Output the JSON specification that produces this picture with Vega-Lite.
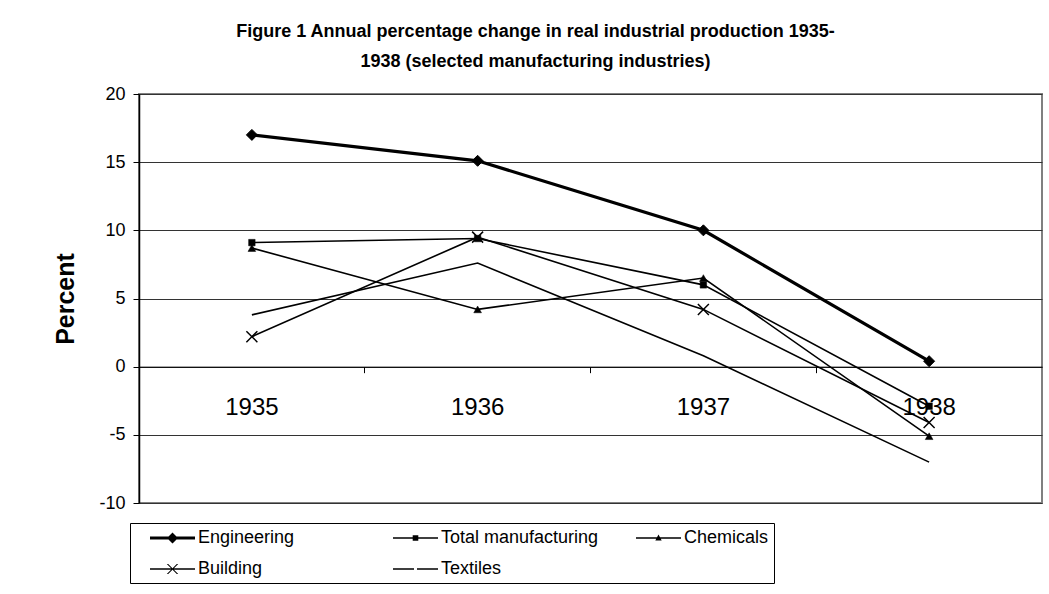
{
  "$schema": "https://vega.github.io/schema/vega-lite/v6.json",
  "autosize": {"type": "none"},
  "width": 903,
  "height": 409,
  "padding": {"left": 139, "top": 94, "right": 7, "bottom": 91},
  "background": "white",
  "title": {
    "text": ["Figure 1 Annual percentage change in real industrial production 1935-", "1938 (selected manufacturing industries)"],
    "font": "Liberation Sans",
    "fontSize": 18,
    "fontWeight": "bold",
    "color": "black",
    "anchor": "middle",
    "frame": "group",
    "dx": -55,
    "offset": 14,
    "lineHeight": 30
  },
  "data": {
    "values": [
      {"year": "1935", "series": "Engineering", "value": 17.0},
      {"year": "1936", "series": "Engineering", "value": 15.1},
      {"year": "1937", "series": "Engineering", "value": 10.0},
      {"year": "1938", "series": "Engineering", "value": 0.4},
      {"year": "1935", "series": "Total manufacturing", "value": 9.1},
      {"year": "1936", "series": "Total manufacturing", "value": 9.4},
      {"year": "1937", "series": "Total manufacturing", "value": 6.0},
      {"year": "1938", "series": "Total manufacturing", "value": -2.9},
      {"year": "1935", "series": "Chemicals", "value": 8.7},
      {"year": "1936", "series": "Chemicals", "value": 4.2},
      {"year": "1937", "series": "Chemicals", "value": 6.5},
      {"year": "1938", "series": "Chemicals", "value": -5.1},
      {"year": "1935", "series": "Building", "value": 2.2},
      {"year": "1936", "series": "Building", "value": 9.5},
      {"year": "1937", "series": "Building", "value": 4.2},
      {"year": "1938", "series": "Building", "value": -4.1},
      {"year": "1935", "series": "Textiles", "value": 3.8},
      {"year": "1936", "series": "Textiles", "value": 7.6},
      {"year": "1937", "series": "Textiles", "value": 0.8},
      {"year": "1938", "series": "Textiles", "value": -7.0}
    ]
  },
  "encoding": {
    "x": {
      "field": "year",
      "type": "ordinal",
      "scale": {"type": "band", "paddingInner": 0, "paddingOuter": 0},
      "axis": {
        "title": null,
        "offset": -136.33,
        "domainColor": "black",
        "domainWidth": 1,
        "tickColor": "black",
        "tickSize": 6,
        "bandPosition": 0,
        "labelFont": "Liberation Sans",
        "labelFontSize": 24,
        "labelPadding": 23,
        "labelAngle": 0,
        "labelColor": "black",
        "grid": false
      }
    },
    "y": {
      "field": "value",
      "type": "quantitative",
      "scale": {"domain": [-10, 20], "nice": false, "zero": false},
      "axis": {
        "title": "Percent",
        "titleFont": "Liberation Sans",
        "titleFontSize": 25,
        "titleFontWeight": "bold",
        "titleColor": "black",
        "titlePadding": 20,
        "values": [-10, -5, 0, 5, 10, 15, 20],
        "labelExpr": "toString(datum.value)",
        "grid": true,
        "gridColor": "#333333",
        "gridWidth": 1,
        "domainColor": "black",
        "domainWidth": 1.5,
        "tickColor": "black",
        "tickSize": 6,
        "labelFont": "Liberation Sans",
        "labelFontSize": 18,
        "labelPadding": 8,
        "labelColor": "black"
      }
    }
  },
  "layer": [
    {
      "transform": [{"filter": "datum.series !== 'Engineering'"}],
      "mark": {"type": "line", "color": "black", "strokeWidth": 1.6},
      "encoding": {"detail": {"field": "series"}}
    },
    {
      "transform": [{"filter": "datum.series === 'Engineering'"}],
      "mark": {"type": "line", "color": "black", "strokeWidth": 3.2},
      "encoding": {"detail": {"field": "series"}}
    },
    {
      "transform": [{"filter": "datum.series === 'Engineering'"}],
      "mark": {"type": "point", "shape": "diamond", "filled": true, "fill": "black", "stroke": "black", "strokeWidth": 1, "size": 121, "opacity": 1}
    },
    {
      "transform": [{"filter": "datum.series === 'Total manufacturing'"}],
      "mark": {"type": "point", "shape": "square", "filled": true, "fill": "black", "stroke": "black", "strokeWidth": 0.5, "size": 42, "opacity": 1}
    },
    {
      "transform": [{"filter": "datum.series === 'Chemicals'"}],
      "mark": {"type": "point", "shape": "triangle-up", "filled": true, "fill": "black", "stroke": "black", "strokeWidth": 0.5, "size": 60, "opacity": 1}
    },
    {
      "transform": [{"filter": "datum.series === 'Building'"}],
      "mark": {"type": "point", "shape": "M-1,-1L1,1M-1,1L1,-1", "filled": false, "stroke": "black", "strokeWidth": 1.5, "size": 121, "opacity": 1}
    },
    {
      "mark": {"type": "point", "filled": true, "color": "black", "opacity": 0},
      "encoding": {
        "shape": {
          "field": "series",
          "type": "nominal",
          "scale": {
            "domain": ["Engineering", "Total manufacturing", "Chemicals", "Building", "Textiles"],
            "range": [
              "M0.5,-0.15H5V0.15H0.5ZM2.2,0L2.75,-0.55L3.3,0L2.75,0.55Z",
              "M0.5,-0.075H5V0.075H0.5ZM2.47,-0.28H3.03V0.28H2.47Z",
              "M0.5,-0.075H5V0.075H0.5ZM2.75,-0.35L3.07,0.25H2.43Z",
              "M0.5,-0.075H5V0.075H0.5ZM2.18,-0.5H2.32L3.32,0.5H3.18ZM3.18,-0.5H3.32L2.32,0.5H2.18Z",
              "M0.5,-0.075H2.6V0.075H0.5ZM2.9,-0.075H5V0.075H2.9Z"
            ]
          },
          "legend": {
            "title": null,
            "orient": "none",
            "direction": "horizontal",
            "legendX": -9,
            "legendY": 429,
            "columns": 3,
            "gridAlign": "all",
            "columnPadding": 22,
            "rowPadding": 12,
            "padding": 5,
            "strokeColor": "black",
            "fillColor": "white",
            "symbolSize": 400,
            "symbolFillColor": "black",
            "symbolStrokeWidth": 0,
            "symbolOpacity": 1,
            "labelFont": "Liberation Sans",
            "labelFontSize": 18,
            "labelColor": "black",
            "labelOffset": 43,
            "labelLimit": 300
          }
        }
      }
    }
  ],
  "config": {
    "view": {"stroke": "#808080", "strokeWidth": 2},
    "font": "Liberation Sans"
  }
}
